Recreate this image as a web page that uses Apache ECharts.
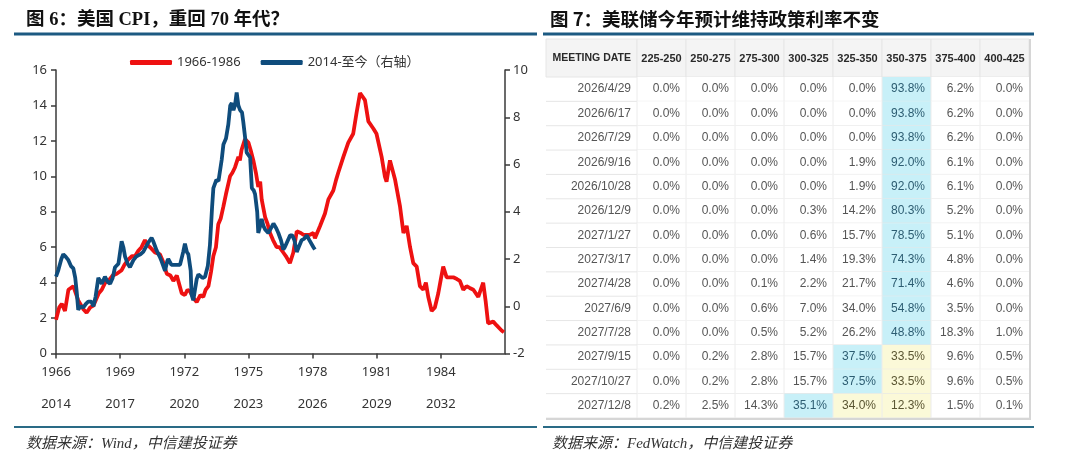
<!DOCTYPE html>
<html><head><meta charset="utf-8">
<script src="https://cdn.jsdelivr.net/npm/echarts@6/dist/echarts.min.js"></script>
<style>html,body{margin:0;padding:0;background:#fff}#c{width:1080px;height:464px}</style>
</head><body><div id="c"></div>
<script>
// ---- Left chart: US CPI YoY (%) ----
const redYears = [1966.0,1966.15,1966.27,1966.42,1966.58,1966.81,1967.04,1967.28,1967.43,1967.6,1967.75,1968.0,1968.14,1968.3,1968.45,1968.65,1968.84,1969.07,1969.2,1969.38,1969.55,1969.7,1969.85,1970.0,1970.16,1970.3,1970.4,1970.63,1970.86,1971.0,1971.18,1971.35,1971.49,1971.65,1971.88,1972.03,1972.15,1972.27,1972.45,1972.58,1972.75,1972.89,1973.0,1973.13,1973.25,1973.36,1973.48,1973.59,1973.7,1973.83,1973.95,1974.14,1974.25,1974.37,1974.53,1974.6,1974.68,1974.84,1975.0,1975.1,1975.23,1975.35,1975.46,1975.55,1975.62,1975.78,1975.9,1976.01,1976.15,1976.32,1976.45,1976.63,1976.75,1976.94,1977.0,1977.1,1977.26,1977.33,1977.45,1977.57,1977.75,1977.88,1977.95,1978.04,1978.11,1978.19,1978.35,1978.58,1978.74,1978.97,1979.1,1979.2,1979.44,1979.67,1979.9,1980.06,1980.22,1980.3,1980.45,1980.61,1980.84,1980.99,1981.23,1981.38,1981.46,1981.62,1981.7,1981.86,1982.09,1982.25,1982.4,1982.56,1982.71,1982.87,1983.02,1983.18,1983.3,1983.41,1983.57,1983.72,1983.88,1984.0,1984.11,1984.27,1984.58,1984.75,1984.89,1985.05,1985.2,1985.35,1985.52,1985.75,1985.98,1986.1,1986.21,1986.45,1986.6,1986.69,1986.84,1986.95];
const redValues = [1.9,2.6,2.8,2.4,3.6,3.8,3.0,2.5,2.3,2.6,2.7,3.4,3.6,4.0,4.1,4.4,4.5,4.7,5.0,5.3,5.5,5.5,5.8,6.0,6.4,6.1,6.0,5.7,5.6,5.2,4.5,4.4,4.1,4.4,3.4,3.3,3.6,3.5,3.1,2.9,3.3,3.2,3.6,3.8,4.6,5.5,6.0,7.3,7.6,8.3,9.0,10.0,10.2,10.5,11.1,10.9,11.5,12.1,11.9,11.5,10.9,10.2,9.4,9.7,8.7,7.7,7.3,6.8,6.4,6.0,6.0,5.7,5.5,5.1,5.0,5.7,6.9,7.0,6.8,6.7,6.7,6.7,6.6,6.8,6.5,6.4,7.2,7.9,8.7,9.2,9.8,10.2,11.1,11.9,12.4,13.6,14.7,14.6,14.3,13.1,12.7,12.4,11.1,10.0,9.7,10.9,11.0,9.8,8.3,6.8,7.2,6.0,5.1,4.9,3.8,3.6,4.0,3.2,2.4,2.6,3.4,4.2,4.9,4.3,4.3,4.2,4.1,3.6,3.8,3.7,3.6,3.2,4.0,2.9,1.7,1.8,1.6,1.7,1.3,1.2];
const blueYears = [2014.0,2014.11,2014.25,2014.34,2014.45,2014.58,2014.7,2014.81,2014.9,2014.97,2015.04,2015.15,2015.28,2015.4,2015.51,2015.65,2015.75,2015.85,2015.98,2016.05,2016.14,2016.29,2016.4,2016.53,2016.65,2016.76,2016.92,2017.07,2017.15,2017.23,2017.35,2017.46,2017.62,2017.75,2017.85,2017.95,2018.08,2018.2,2018.32,2018.47,2018.55,2018.71,2018.85,2018.94,2019.1,2019.2,2019.25,2019.4,2019.49,2019.65,2019.8,2019.95,2020.03,2020.12,2020.19,2020.3,2020.34,2020.42,2020.5,2020.58,2020.66,2020.74,2020.85,2020.97,2021.1,2021.2,2021.3,2021.36,2021.5,2021.6,2021.67,2021.75,2021.83,2021.95,2022.06,2022.15,2022.22,2022.3,2022.37,2022.45,2022.53,2022.61,2022.7,2022.76,2022.85,2022.92,2023.08,2023.16,2023.25,2023.31,2023.41,2023.46,2023.55,2023.62,2023.7,2023.78,2023.93,2024.05,2024.17,2024.3,2024.4,2024.52,2024.63,2024.7,2024.8,2024.95,2025.05,2025.15,2025.26,2025.35,2025.49,2025.6,2025.73,2025.85,2026.04,2026.11];
const blueValues = [1.25,1.53,2.0,2.2,2.1,1.95,1.7,1.6,1.2,0.6,-0.15,0.0,-0.05,0.1,0.2,0.2,0.0,0.4,1.2,1.1,0.95,1.25,1.05,0.95,1.2,1.65,1.8,2.75,2.5,2.1,1.8,1.65,1.95,2.1,2.15,2.2,2.3,2.5,2.7,2.9,2.75,2.35,2.1,1.9,1.5,1.9,2.0,1.75,1.75,1.75,1.75,2.3,2.65,2.3,2.2,1.5,0.5,0.25,0.7,1.15,1.35,1.4,1.2,1.25,1.7,2.6,4.2,5.0,5.35,5.3,5.25,6.2,6.85,7.1,7.7,8.5,8.6,8.3,8.5,9.05,8.5,8.3,8.2,7.8,7.1,6.5,6.3,5.0,4.9,4.75,4.0,3.1,3.4,3.7,3.4,3.25,3.1,3.3,3.5,3.3,3.1,2.8,2.4,2.5,2.7,3.0,3.0,2.8,2.3,2.5,2.8,2.85,3.0,2.8,2.5,2.4];
const yearOffset = 48; // 2014 aligned with 1966
const xTickTop = ['1966','1969','1972','1975','1978','1981','1984'];
const xTickBottom = ['2014','2017','2020','2023','2026','2029','2032'];

// ---- Right table: FedWatch probabilities (%) ----
const rateBins = ['225-250','250-275','275-300','300-325','325-350','350-375','375-400','400-425'];
const meetingDates = ['2026/4/29','2026/6/17','2026/7/29','2026/9/16','2026/10/28','2026/12/9','2027/1/27','2027/3/17','2027/4/28','2027/6/9','2027/7/28','2027/9/15','2027/10/27','2027/12/8'];
const probabilities = [
  [0.0,0.0,0.0,0.0,0.0,93.8,6.2,0.0],
  [0.0,0.0,0.0,0.0,0.0,93.8,6.2,0.0],
  [0.0,0.0,0.0,0.0,0.0,93.8,6.2,0.0],
  [0.0,0.0,0.0,0.0,1.9,92.0,6.1,0.0],
  [0.0,0.0,0.0,0.0,1.9,92.0,6.1,0.0],
  [0.0,0.0,0.0,0.3,14.2,80.3,5.2,0.0],
  [0.0,0.0,0.0,0.6,15.7,78.5,5.1,0.0],
  [0.0,0.0,0.0,1.4,19.3,74.3,4.8,0.0],
  [0.0,0.0,0.1,2.2,21.7,71.4,4.6,0.0],
  [0.0,0.0,0.6,7.0,34.0,54.8,3.5,0.0],
  [0.0,0.0,0.5,5.2,26.2,48.8,18.3,1.0],
  [0.0,0.2,2.8,15.7,37.5,33.5,9.6,0.5],
  [0.0,0.2,2.8,15.7,37.5,33.5,9.6,0.5],
  [0.2,2.5,14.3,35.1,34.0,12.3,1.5,0.1]
];
const currentBin = 5; // 350-375

const redData = redYears.map((y, i) => [y, redValues[i]]);
const blueData = blueYears.map((y, i) => [y - yearOffset, blueValues[i]]);
const tableData = [];
probabilities.forEach((row, r) => row.forEach((v, c) => tableData.push([c, r, v])));
function cellKind(r, c) {
  const row = probabilities[r];
  let m = 0; row.forEach((v, i) => { if (v > row[m]) m = i; });
  if (c === m) return 'max';
  const lo = Math.min(m, currentBin), hi = Math.max(m, currentBin);
  if (c >= lo && c <= hi) return 'cur';
  return 'normal';
}

const FONT = '"Noto Sans", "Noto Sans CJK SC", sans-serif';
const RED = '#ee1111', BLUE = '#0f4c7c', LINEC = '#1c5a82';
const HEADER_H = 38, DATE_W = 91;

const chart = echarts.init(document.getElementById('c'), null, {renderer: 'canvas'});
chart.setOption({
  animation: false,
  backgroundColor: '#ffffff',
  title: [
    {text: '图 6：美国 CPI，重回 70 年代？', left: 26, top: 11, padding: 0,
     textStyle: {fontSize: 18.5, fontWeight: 'bold', color: '#111', fontFamily: '"Liberation Serif", "Noto Sans CJK SC", serif'}},
    {text: '图 7：美联储今年预计维持政策利率不变', left: 550, top: 10, padding: 0,
     textStyle: {fontSize: 18.5, fontWeight: 'bold', color: '#111', fontFamily: '"Noto Sans CJK SC", sans-serif'}}
  ],
  legend: {
    left: 130, top: 56, padding: 0, itemGap: 20, itemWidth: 42, itemHeight: 5, icon: 'roundRect',
    textStyle: {fontSize: 13, color: '#333', fontFamily: FONT},
    data: ['1966-1986', '2014-至今（右轴）']
  },
  graphic: [
    {type: 'line', z: 100, shape: {x1: 14, y1: 34, x2: 537, y2: 34}, style: {stroke: LINEC, lineWidth: 3}},
    {type: 'line', z: 100, shape: {x1: 543, y1: 34, x2: 1034, y2: 34}, style: {stroke: LINEC, lineWidth: 3}},
    {type: 'line', z: 100, shape: {x1: 14, y1: 427, x2: 537, y2: 427}, style: {stroke: '#2a6b86', lineWidth: 2}},
    {type: 'line', z: 100, shape: {x1: 543, y1: 427, x2: 1034, y2: 427}, style: {stroke: '#2a6b86', lineWidth: 2}},
    {type: 'text', z: 100, x: 26, y: 444, style: {text: '数据来源：Wind，中信建投证券', fill: '#333', verticalAlign: 'middle',
      font: 'italic 15px "Liberation Serif", "Noto Sans CJK SC", serif'}},
    {type: 'text', z: 100, x: 552, y: 444, style: {text: '数据来源：FedWatch，中信建投证券', fill: '#333', verticalAlign: 'middle',
      font: 'italic 15px "Liberation Serif", "Noto Sans CJK SC", serif'}},
    {type: 'text', z: 100, x: 631, y: 58, style: {text: 'MEETING DATE', fill: '#2a2a2a', align: 'right', verticalAlign: 'middle',
      font: 'bold 10.5px "Liberation Sans", Arial, sans-serif'}}
  ],
  grid: [
    {left: 56, right: 575, top: 70, bottom: 110.5},
    {left: 637, right: 51, top: 77, bottom: 46}
  ],
  xAxis: [
    {type: 'value', gridIndex: 0, min: 1966, max: 1987, interval: 3,
     axisLine: {show: true, lineStyle: {color: '#3a3a3a', width: 1.5}},
     axisTick: {show: true, length: 5, lineStyle: {color: '#3a3a3a', width: 1.5}},
     splitLine: {show: false},
     axisLabel: {margin: 3, lineHeight: 32, fontSize: 13, color: '#333', fontFamily: FONT, showMaxLabel: false,
       formatter: (v, i) => (i < xTickTop.length ? xTickTop[i] + '\n' + xTickBottom[i] : '')}},
    {type: 'category', gridIndex: 1, position: 'top', data: rateBins, z: 10,
     axisLine: {show: false}, axisTick: {show: false}, splitLine: {show: false},
     axisLabel: {margin: 13, fontSize: 11, fontWeight: 'bold', color: '#2a2a2a', fontFamily: '"Liberation Sans", Arial, sans-serif', interval: 0}}
  ],
  yAxis: [
    {type: 'value', gridIndex: 0, min: 0, max: 16, interval: 2, position: 'left',
     axisLine: {show: true, lineStyle: {color: '#3a3a3a', width: 1.5}},
     axisTick: {show: true, length: 5, lineStyle: {color: '#3a3a3a', width: 1.5}},
     splitLine: {show: false},
     axisLabel: {margin: 9, fontSize: 13, color: '#333', fontFamily: FONT}},
    {type: 'value', gridIndex: 0, min: -2, max: 10, interval: 2, position: 'right',
     axisLine: {show: true, lineStyle: {color: '#3a3a3a', width: 1.5}},
     axisTick: {show: true, length: 5, lineStyle: {color: '#3a3a3a', width: 1.5}},
     splitLine: {show: false},
     axisLabel: {margin: 8, fontSize: 13, color: '#333', fontFamily: FONT}},
    {type: 'category', gridIndex: 1, data: meetingDates, inverse: true, z: 10,
     axisLine: {show: false}, axisTick: {show: false}, splitLine: {show: false},
     axisLabel: {margin: 6, fontSize: 12, color: '#555', fontFamily: '"Liberation Sans", Arial, sans-serif', interval: 0}}
  ],
  series: [
    {name: '1966-1986', type: 'line', xAxisIndex: 0, yAxisIndex: 0, data: redData, showSymbol: false, symbol: 'none',
     lineStyle: {color: RED, width: 3.8}, itemStyle: {color: RED}, z: 3},
    {name: '2014-至今（右轴）', type: 'line', xAxisIndex: 0, yAxisIndex: 1, data: blueData, showSymbol: false, symbol: 'none',
     lineStyle: {color: BLUE, width: 3.8}, itemStyle: {color: BLUE}, z: 4},
    {type: 'custom', xAxisIndex: 1, yAxisIndex: 2, data: tableData, z: 1, silent: true,
     renderItem: function (params, api) {
       const c = api.value(0), r = api.value(1), v = api.value(2);
       const p = api.coord([c, r]);
       const s = api.size([1, 1]);
       const x0 = p[0] - s[0] / 2, y0 = p[1] - s[1] / 2;
       const kind = cellKind(r, c);
       const fill = kind === 'max' ? '#c8f0f8' : kind === 'cur' ? '#fbf9d8' : '#ffffff';
       const tcol = kind === 'max' ? '#2d5d72' : kind === 'cur' ? '#5a5532' : '#555555';
       const ch = [
         {type: 'rect', shape: {x: x0, y: y0, width: s[0], height: s[1]}, style: {fill: fill}},
         {type: 'line', shape: {x1: x0, y1: y0 + s[1], x2: x0 + s[0], y2: y0 + s[1]}, style: {stroke: '#e6e6e6', lineWidth: 1}},
         {type: 'line', shape: {x1: x0, y1: y0, x2: x0, y2: y0 + s[1]}, style: {stroke: '#ececec', lineWidth: 1}},
         {type: 'text', style: {text: v.toFixed(1) + '%', x: x0 + s[0] - 6, y: p[1], align: 'right', verticalAlign: 'middle',
           fill: tcol, font: '12px "Liberation Sans", Arial, sans-serif'}}
       ];
       if (c === 0) {
         ch.push({type: 'line', shape: {x1: x0 - DATE_W, y1: y0 + s[1], x2: x0, y2: y0 + s[1]}, style: {stroke: '#e6e6e6', lineWidth: 1}});
       }
       if (r === 0) {
         ch.unshift({type: 'rect', shape: {x: x0, y: y0 - HEADER_H, width: s[0], height: HEADER_H}, style: {fill: '#f4f4f4', stroke: '#e6e6e6', lineWidth: 1}});
         if (c === 0) ch.unshift({type: 'rect', shape: {x: x0 - DATE_W, y: y0 - HEADER_H, width: DATE_W, height: HEADER_H}, style: {fill: '#f4f4f4', stroke: '#e6e6e6', lineWidth: 1}});
       }
       if (c === rateBins.length - 1) {
         ch.push({type: 'line', shape: {x1: x0 + s[0] + 1, y1: (r === 0 ? y0 - HEADER_H : y0), x2: x0 + s[0] + 1, y2: y0 + s[1] + 2}, style: {stroke: '#d6d6d6', lineWidth: 2}});
       }
       if (r === meetingDates.length - 1) {
         ch.push({type: 'line', shape: {x1: (c === 0 ? x0 - DATE_W : x0), y1: y0 + s[1] + 1, x2: x0 + s[0] + 1, y2: y0 + s[1] + 1}, style: {stroke: '#d6d6d6', lineWidth: 2}});
       }
       return {type: 'group', children: ch};
     }}
  ]
});
</script>
</body></html>
